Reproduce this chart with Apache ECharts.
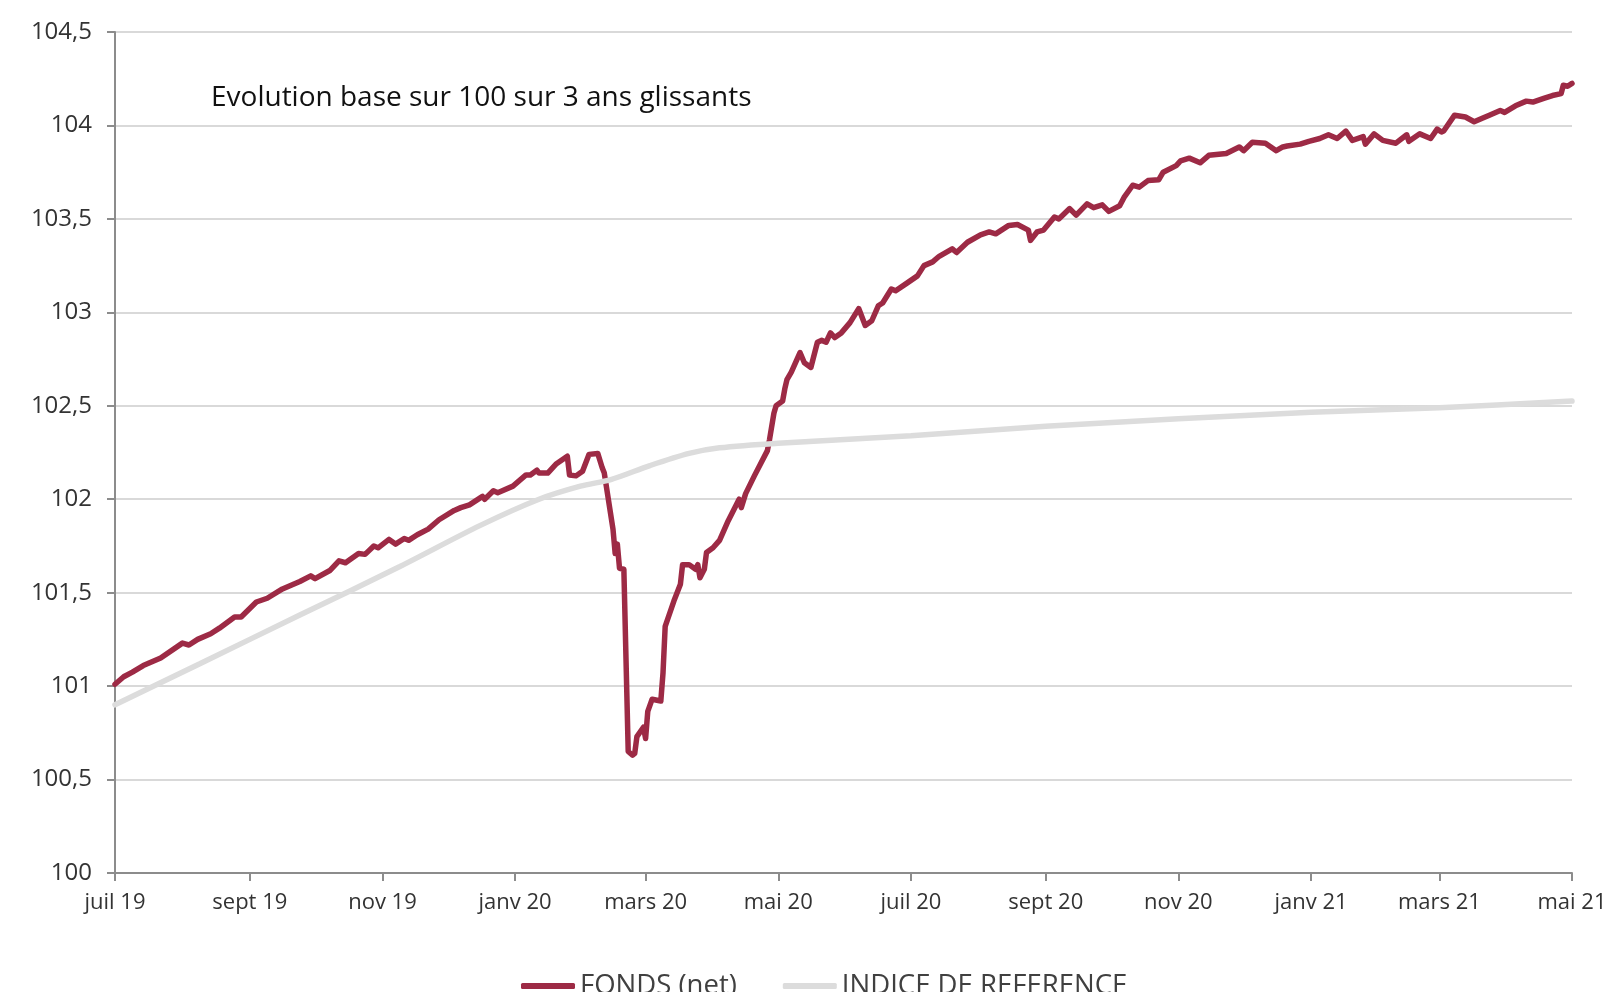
<!DOCTYPE html>
<html>
<head>
<meta charset="utf-8">
<script src="https://cdn.jsdelivr.net/npm/echarts@6/dist/echarts.min.js"></script>
<style>
html,body{margin:0;padding:0;background:#fff;}
#chart{width:1611px;height:992px;}
</style>
</head>
<body>
<div id="chart"></div>
<script>
// Dates are given as day offsets from 2019-07-01
const startDate = [2019, 6, 1];
const tickDates = ['2019-07-01','2019-09-01','2019-11-01','2020-01-01','2020-03-01','2020-05-01','2020-07-01','2020-09-01','2020-11-01','2021-01-01','2021-03-01','2021-05-01'];
const tickLabels = ['juil 19','sept 19','nov 19','janv 20','mars 20','mai 20','juil 20','sept 20','nov 20','janv 21','mars 21','mai 21'];

const fundDays = [0,4,8,13,21,31,34,38,44,48,55,58,65,70,77,85,90,92,99,103,106,112,115,119,121,126,129,133,135,139,144,149,156,159,163,169,170,174,176,183,189,191,194,195,199,203,208,209,212,215,218,222,224,225,229,230,231,232,234,236,238,239,240,243,244,245,247,251,252,253,257,260,261,264,267,268,269,271,272,275,278,282,287,288,290,294,300,301,303,304,307,308,309,311,315,317,320,323,325,327,329,331,334,338,342,345,348,351,353,357,359,364,369,372,376,379,385,387,392,398,402,405,411,415,420,421,424,427,432,434,439,442,447,450,454,457,462,464,468,471,475,480,482,488,490,494,499,503,511,517,519,523,529,534,537,539,545,549,554,558,562,566,569,574,575,579,583,589,594,595,600,605,608,610,611,616,621,625,629,632,637,639,644,649,652,657,661,665,666,668,670];
const fundValues = [101.01,101.05,101.075,101.11,101.15,101.23,101.22,101.25,101.28,101.31,101.37,101.37,101.45,101.47,101.52,101.56,101.59,101.575,101.62,101.67,101.66,101.71,101.705,101.75,101.74,101.785,101.76,101.79,101.78,101.81,101.84,101.89,101.94,101.955,101.97,102.015,102.0,102.045,102.035,102.07,102.13,102.13,102.155,102.14,102.14,102.19,102.23,102.13,102.125,102.15,102.24,102.245,102.17,102.14,101.84,101.71,101.76,101.63,101.625,100.65,100.63,100.64,100.73,100.78,100.72,100.865,100.93,100.92,101.07,101.32,101.455,101.545,101.65,101.65,101.625,101.65,101.58,101.625,101.715,101.74,101.78,101.885,102.0,101.955,102.03,102.125,102.26,102.32,102.46,102.5,102.525,102.59,102.64,102.68,102.785,102.73,102.705,102.84,102.85,102.84,102.89,102.865,102.89,102.945,103.02,102.93,102.955,103.035,103.05,103.125,103.115,103.155,103.195,103.25,103.27,103.3,103.34,103.32,103.375,103.415,103.43,103.42,103.465,103.47,103.44,103.385,103.43,103.44,103.51,103.5,103.555,103.52,103.58,103.56,103.575,103.54,103.57,103.615,103.68,103.67,103.705,103.71,103.75,103.785,103.81,103.825,103.8,103.84,103.85,103.885,103.865,103.91,103.905,103.865,103.885,103.89,103.9,103.915,103.93,103.95,103.93,103.97,103.92,103.94,103.9,103.955,103.92,103.905,103.95,103.915,103.955,103.93,103.98,103.965,103.97,104.055,104.045,104.02,104.04,104.055,104.08,104.07,104.105,104.13,104.125,104.145,104.16,104.17,104.215,104.21,104.225];

const refDays = [0,39,85,131,168,195,214,228,246,264,278,305,366,428,489,550,609,670];
const refValues = [100.9,101.12,101.38,101.64,101.86,102.0,102.07,102.105,102.18,102.245,102.275,102.3,102.34,102.39,102.43,102.465,102.49,102.525];

const seriesNames = ['FONDS (net)', 'INDICE DE REFERENCE'];
const titleText = 'Evolution base sur 100 sur 3 ans glissants';

function toTime(d) { return new Date(startDate[0], startDate[1], startDate[2] + d).getTime(); }
function parseDate(s) { const p = s.split('-').map(Number); return new Date(p[0], p[1]-1, p[2]).getTime(); }

const tickTimes = tickDates.map(parseDate);
const fundData = fundDays.map((d, i) => [toTime(d), fundValues[i]]);
const refData = refDays.map((d, i) => [toTime(d), refValues[i]]);

const FONT = 'Open Sans';
const chart = echarts.init(document.getElementById('chart'), null, {renderer: 'canvas'});
chart.setOption({
  animation: false,
  backgroundColor: '#ffffff',
  title: {
    text: titleText,
    left: 206,
    top: 76,
    textStyle: {fontFamily: FONT, fontSize: 28, fontWeight: 'normal', color: '#111111', lineHeight: 34}
  },
  legend: {
    top: 966,
    left: 516,
    itemWidth: 54,
    itemHeight: 6,
    itemGap: 46,
    icon: 'roundRect',
    textStyle: {fontFamily: FONT, fontSize: 27.5, color: '#404040', lineHeight: 30},
    data: seriesNames
  },
  grid: {left: 115, right: 39, top: 32, bottom: 119, containLabel: false, outerBoundsMode: 'none'},
  xAxis: {
    type: 'value',
    min: tickTimes[0],
    max: tickTimes[tickTimes.length - 1],
    axisLine: {show: true, lineStyle: {color: '#8c8c8c', width: 2}},
    axisTick: {show: true, length: 8, lineStyle: {color: '#8c8c8c', width: 2}, customValues: tickTimes},
    axisLabel: {
      customValues: tickTimes,
      hideOverlap: false,
      showMinLabel: true,
      showMaxLabel: true,
      margin: 19,
      fontFamily: FONT, fontSize: 22, color: '#333333',
      formatter: function (v) {
        let best = 0, bd = Infinity;
        tickTimes.forEach((t, i) => { const dd = Math.abs(t - v); if (dd < bd) { bd = dd; best = i; } });
        return tickLabels[best];
      }
    },
    splitLine: {show: false}
  },
  yAxis: {
    type: 'value',
    min: 100,
    max: 104.5,
    interval: 0.5,
    axisLine: {show: true, lineStyle: {color: '#8c8c8c', width: 2}},
    axisTick: {show: true, length: 8, lineStyle: {color: '#8c8c8c', width: 2}},
    axisLabel: {
      margin: 23,
      fontFamily: FONT, fontSize: 24, color: '#333333',
      formatter: function (v) { return String(v).replace('.', ','); }
    },
    splitLine: {show: true, lineStyle: {color: '#d9d9d9', width: 2}}
  },
  series: [
    {
      name: seriesNames[0],
      type: 'line',
      data: fundData,
      showSymbol: false,
      symbol: 'none',
      color: '#9d2a45',
      lineStyle: {color: '#9d2a45', width: 5.5, join: 'round', cap: 'round'},
      z: 2
    },
    {
      name: seriesNames[1],
      type: 'line',
      data: refData,
      smooth: 0.3,
      showSymbol: false,
      symbol: 'none',
      color: '#dcdcdc',
      lineStyle: {color: '#dcdcdc', width: 5.5, cap: 'round'},
      z: 3
    }
  ]
});
</script>
</body>
</html>
